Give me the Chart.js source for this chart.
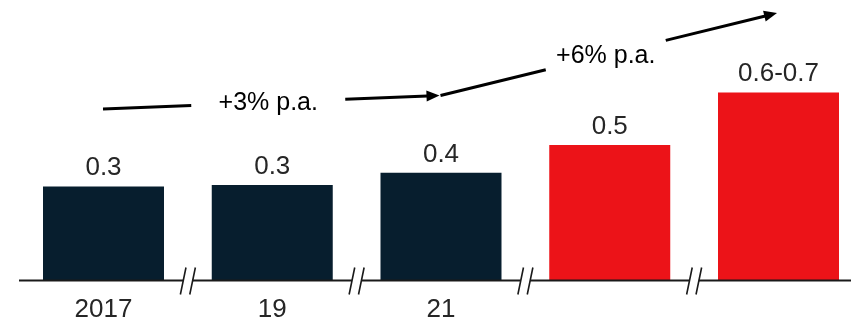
<!DOCTYPE html>
<html>
<head>
<meta charset="utf-8">
<script src="https://cdn.jsdelivr.net/npm/chart.js@4/dist/chart.umd.min.js"></script>
<style>
  html, body { margin: 0; padding: 0; background: #fff; }
  #wrap { width: 851px; height: 325px; position: relative; }
</style>
</head>
<body>
<div id="wrap"><canvas id="chart"></canvas></div>
<script>
// years on the axis (last two are unlabelled forecast years)
const categories = ['2017', '19', '21', '', ''];
// market volume per year
const values = [0.34, 0.345, 0.39, 0.49, 0.68];
// text printed above each bar
const valueLabels = ['0.3', '0.3', '0.4', '0.5', '0.6-0.7'];
// growth arrows: from bar index, to bar index, caption
const growthFrom = [0, 2];
const growthTo = [2, 4];
const growthText = ['+3% p.a.', '+6% p.a.'];

const NAVY = '#071e2e';
const RED = '#ec1318';
const TEXT = '#262626';
const FONT = '"Liberation Sans", Arial, sans-serif';

const barColors = values.map((v, i) => i < 3 ? NAVY : RED);

// baseline with "//" breaks between the bars
const brokenAxis = {
  id: 'brokenAxis',
  afterDatasetsDraw(chart) {
    const ctx = chart.ctx;
    const x = chart.scales.x;
    const y0 = chart.scales.y.getPixelForValue(0);
    const breaks = [];
    for (let i = 0; i < categories.length - 1; i++) {
      breaks.push((x.getPixelForValue(i) + x.getPixelForValue(i + 1)) / 2);
    }
    ctx.save();
    ctx.strokeStyle = '#1a1a1a';
    ctx.lineWidth = 2;
    let start = 19;
    ctx.beginPath();
    breaks.forEach(m => {
      ctx.moveTo(start, y0);
      ctx.lineTo(m - 4.7, y0);
      start = m + 4.7;
    });
    ctx.moveTo(start, y0);
    ctx.lineTo(chart.width, y0);
    ctx.stroke();
    ctx.lineWidth = 1.6;
    ctx.beginPath();
    breaks.forEach(m => {
      [m - 4.7, m + 4.7].forEach(s => {
        ctx.moveTo(s - 2.8, y0 + 14);
        ctx.lineTo(s + 2.8, y0 - 13);
      });
    });
    ctx.stroke();
    ctx.restore();
  }
};

// numbers above bars
const barValues = {
  id: 'barValues',
  afterDatasetsDraw(chart) {
    const ctx = chart.ctx;
    const meta = chart.getDatasetMeta(0);
    ctx.save();
    ctx.font = '26px ' + FONT;
    ctx.fillStyle = TEXT;
    ctx.textAlign = 'center';
    ctx.textBaseline = 'alphabetic';
    meta.data.forEach((bar, i) => {
      ctx.fillText(valueLabels[i], bar.x, bar.y - 11);
    });
    ctx.restore();
  }
};

// CAGR arrows with caption sitting in a gap of the line
const growthArrows = {
  id: 'growthArrows',
  afterDraw(chart) {
    const ctx = chart.ctx;
    const x = chart.scales.x;
    const y = chart.scales.y;
    const levels = [[0.62, 0.669], [0.669, 0.967]];
    const gaps = [77, 60];
    ctx.save();
    ctx.strokeStyle = '#000';
    ctx.fillStyle = '#000';
    ctx.lineWidth = 3;
    growthText.forEach((txt, k) => {
      const x1 = x.getPixelForValue(growthFrom[k]) - 0.5;
      const x2 = x.getPixelForValue(growthTo[k]) - 1.5;
      const y1 = y.getPixelForValue(levels[k][0]);
      const y2 = y.getPixelForValue(levels[k][1]);
      const slope = (y2 - y1) / (x2 - x1);
      const mx = (x1 + x2) / 2 - 3;
      const my = y1 + slope * (mx - x1);
      const g = gaps[k];
      const ang = Math.atan2(y2 - y1, x2 - x1);
      const hl = 13, hw = 5.5;
      const bx = x2 - hl * Math.cos(ang), by = y2 - hl * Math.sin(ang);
      ctx.beginPath();
      ctx.moveTo(x1, y1);
      ctx.lineTo(mx - g, y1 + slope * (mx - g - x1));
      ctx.moveTo(mx + g, y1 + slope * (mx + g - x1));
      ctx.lineTo(bx + Math.cos(ang), by + Math.sin(ang));
      ctx.stroke();
      ctx.beginPath();
      ctx.moveTo(x2, y2);
      ctx.lineTo(bx + hw * Math.sin(ang), by - hw * Math.cos(ang));
      ctx.lineTo(bx - hw * Math.sin(ang), by + hw * Math.cos(ang));
      ctx.closePath();
      ctx.fill();
      ctx.font = '25px ' + FONT;
      ctx.textAlign = 'center';
      ctx.textBaseline = 'middle';
      ctx.fillText(txt, mx, my + 1);
    });
    ctx.restore();
  }
};

new Chart(document.getElementById('chart'), {
  type: 'bar',
  data: {
    labels: categories,
    datasets: [{
      data: values,
      backgroundColor: barColors,
      borderWidth: 0,
      categoryPercentage: 1,
      barPercentage: 0.717,
      clip: false
    }]
  },
  options: {
    responsive: true,
    maintainAspectRatio: false,
    animation: false,
    events: [],
    layout: { padding: { left: 103.5, right: 72.5, top: 4, bottom: 0 } },
    plugins: {
      legend: { display: false },
      tooltip: { enabled: false }
    },
    scales: {
      x: {
        offset: false,
        grid: { display: false, drawTicks: false },
        border: { display: false },
        ticks: {
          padding: 14,
          color: TEXT,
          font: { family: FONT, size: 26 },
          maxRotation: 0,
          autoSkip: false
        },
        afterFit(scale) { scale.height = 44.5; }
      },
      y: {
        display: false,
        min: 0,
        max: 1
      }
    }
  },
  plugins: [brokenAxis, barValues, growthArrows]
});
</script>
</body>
</html>
